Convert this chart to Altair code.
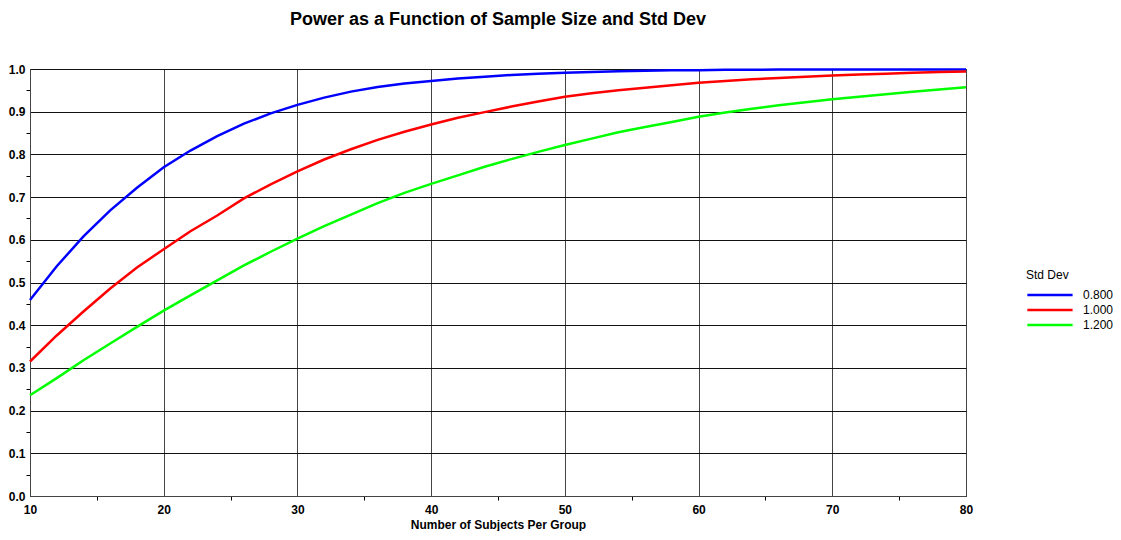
import altair as alt
import pandas as pd

n_subjects = list(range(10, 81, 2))

power_sd_080 = [0.459, 0.538, 0.608, 0.669, 0.722, 0.770, 0.809, 0.843, 0.872, 0.896,
                0.916, 0.933, 0.947, 0.958, 0.966, 0.972, 0.978, 0.982, 0.986, 0.989,
                0.991, 0.993, 0.995, 0.996, 0.997, 0.997, 0.998, 0.998, 0.999, 0.999,
                0.999, 0.999, 0.999, 0.999, 0.999, 0.999]
power_sd_100 = [0.315, 0.376, 0.432, 0.486, 0.535, 0.578, 0.620, 0.657, 0.697, 0.730,
                0.760, 0.788, 0.812, 0.834, 0.853, 0.870, 0.886, 0.899, 0.912, 0.924,
                0.935, 0.943, 0.950, 0.956, 0.962, 0.968, 0.972, 0.976, 0.979, 0.982,
                0.985, 0.987, 0.989, 0.991, 0.993, 0.994]
power_sd_120 = [0.236, 0.276, 0.318, 0.357, 0.396, 0.434, 0.470, 0.505, 0.540, 0.572,
                0.603, 0.632, 0.659, 0.686, 0.710, 0.731, 0.751, 0.771, 0.789, 0.806,
                0.822, 0.837, 0.852, 0.864, 0.876, 0.888, 0.898, 0.907, 0.915, 0.922,
                0.929, 0.935, 0.941, 0.947, 0.952, 0.957]

series_names = ["0.800", "1.000", "1.200"]
series_colors = ["#0000ff", "#ff0000", "#00ff00"]

x_ticks = list(range(10, 81, 5))
y_ticks = [round(i * 0.05, 2) for i in range(0, 21)]

rows = []
for name, vals in zip(series_names, [power_sd_080, power_sd_100, power_sd_120]):
    for xv, yv in zip(n_subjects, vals):
        rows.append({"n": xv, "power": yv, "sd": name})
df = pd.DataFrame(rows)

font = "Liberation Sans"

chart = alt.Chart(df).mark_line(strokeWidth=2.5).encode(
    x=alt.X("n:Q", scale=alt.Scale(domain=[10, 80], nice=False, zero=False),
            axis=alt.Axis(values=x_ticks, title="Number of Subjects Per Group",
                          labelExpr="datum.value % 10 == 0 ? datum.label : ''",
                          labelFlush=False,
                          tickSize={"condition": {"test": "datum.value % 10 == 0", "value": 0}, "value": 4},
                          gridOpacity={"condition": {"test": "datum.value % 10 == 0", "value": 1}, "value": 0},
                          gridColor="#444", labelPadding=8, titlePadding=4)),
    y=alt.Y("power:Q", scale=alt.Scale(domain=[0, 1], nice=False),
            axis=alt.Axis(values=y_ticks, title=None, format=".1f",
                          labelExpr="round(datum.value*100) % 10 == 0 ? datum.label : ''",
                          labelFlush=False,
                          tickSize={"condition": {"test": "round(datum.value*100) % 10 == 0", "value": 0}, "value": 4},
                          gridOpacity={"condition": {"test": "round(datum.value*100) % 10 == 0", "value": 1}, "value": 0},
                          gridColor="#111", labelPadding=5)),
    color=alt.Color("sd:N", scale=alt.Scale(domain=series_names, range=series_colors),
                    legend=alt.Legend(title="Std Dev", orient="none", legendX=996, legendY=201,
                                      symbolType="M-1,0H7", symbolSize=128,
                                      symbolStrokeWidth=2.5, labelOffset=43,
                                      titleFont=font, titleFontSize=12, titleFontWeight="normal",
                                      titlePadding=6, titleColor="#000", labelColor="#000",
                                      labelFont=font, labelFontSize=12, rowPadding=2)),
).properties(
    width=936, height=427,
    title=alt.Title("Power as a Function of Sample Size and Std Dev", font=font, fontSize=18,
                    fontWeight="bold", offset=34, color="#000"),
    autosize=alt.AutoSizeParams(type="none"),
    padding={"left": 22, "top": 61, "right": 147, "bottom": 35},
).configure_axis(
    labelFont=font, labelFontSize=12, labelFontWeight="bold", labelColor="#000",
    titleFont=font, titleFontSize=12, titleFontWeight="bold", titleColor="#000",
    domainColor="#444", tickColor="#000", gridWidth=1,
).configure_view(stroke="#444", strokeWidth=1)

chart.save("out.html", embed_options={"renderer": "svg", "actions": False})
